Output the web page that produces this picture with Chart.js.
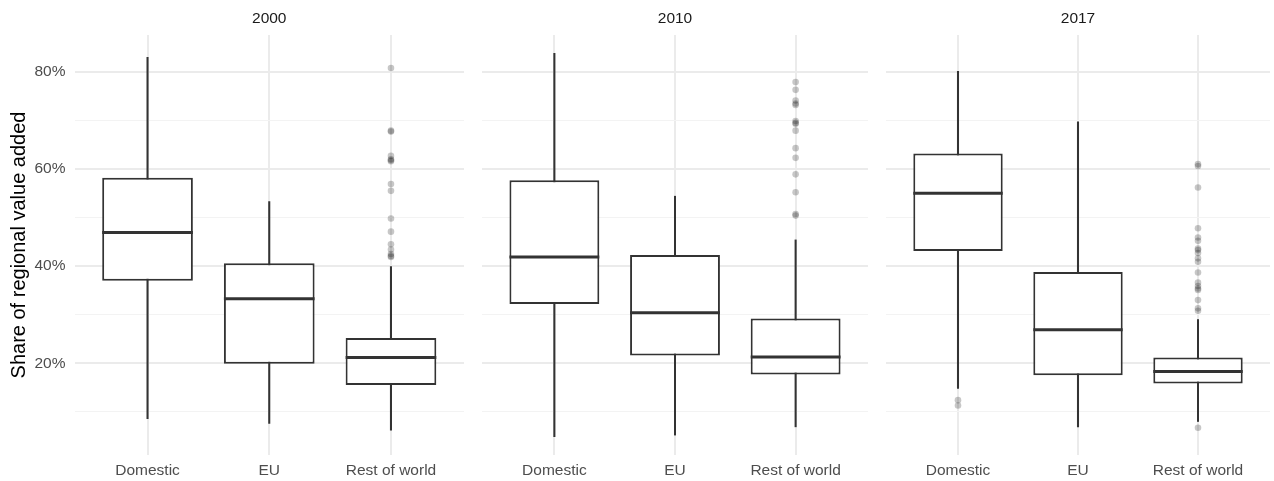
<!DOCTYPE html>
<html>
<head>
<meta charset="utf-8">
<script src="https://cdn.jsdelivr.net/npm/chart.js@4.4.1/dist/chart.umd.min.js"></script>
<style>
  html, body { margin: 0; padding: 0; background: #ffffff; }
  #wrap { position: relative; width: 1274px; height: 481px; }
  .panel { position: absolute; top: 0; }
</style>
</head>
<body>
<div id="wrap">
  <div class="panel" style="left:0px"><canvas id="p2000" width="468" height="481"></canvas></div>
  <div class="panel" style="left:478px"><canvas id="p2010" width="394" height="481"></canvas></div>
  <div class="panel" style="left:882px"><canvas id="p2017" width="392" height="481"></canvas></div>
</div>
<script>
// Source categories and facet years
const categories = ['Domestic', 'EU', 'Rest of world'];
const years = ['2000', '2010', '2017'];
const yTickValues = [10, 20, 30, 40, 50, 60, 70, 80];

// 2000: box statistics (percent)
const low2000 = [8.6, 7.6, 6.2];
const q1_2000 = [37.0, 19.9, 15.5];
const med2000 = [46.9, 33.3, 21.2];
const q3_2000 = [58.2, 40.6, 25.2];
const high2000 = [83.0, 53.3, 39.9];
const out2000 = [[], [], [80.8, 67.9, 67.7, 62.7, 62.0, 61.8, 61.6, 56.9, 55.5, 49.8, 47.1, 44.5, 43.4, 42.5, 42.1, 41.9]];

// 2010
const low2010 = [4.9, 5.2, 6.9];
const q1_2010 = [32.2, 21.6, 17.7];
const med2010 = [41.9, 30.4, 21.3];
const q3_2010 = [57.7, 42.3, 29.2];
const high2010 = [83.8, 54.4, 45.4];
const out2010 = [[], [], [77.9, 76.3, 74.1, 73.5, 73.2, 69.9, 69.5, 69.3, 67.9, 64.3, 62.3, 58.9, 55.2, 50.7, 50.4]];

// 2017
const low2017 = [14.8, 6.9, 8.0];
const q1_2017 = [43.1, 17.5, 15.8];
const med2017 = [55.0, 26.9, 18.3];
const q3_2017 = [63.2, 38.8, 21.2];
const high2017 = [80.1, 69.7, 29.0];
const out2017 = [[12.4, 11.3], [], [61.0, 60.6, 56.2, 47.8, 45.9, 45.2, 43.6, 43.3, 42.7, 41.6, 40.9, 38.7, 36.6, 35.9, 35.4, 35.1, 33.0, 31.3, 30.8, 6.7]];

const FAMILY = '"Liberation Sans", Arial, Helvetica, sans-serif';
const INK = '#333333';

// Median bars and facet strip labels
const boxExtras = {
  id: 'boxExtras',
  afterDatasetsDraw(chart, args, opts) {
    const meta = chart.getDatasetMeta(opts.boxIndex);
    const yScale = chart.scales.y;
    const ctx = chart.ctx;
    ctx.save();
    ctx.strokeStyle = INK;
    ctx.lineWidth = 3;
    meta.data.forEach((el, i) => {
      const py = yScale.getPixelForValue(opts.medians[i]);
      ctx.beginPath();
      ctx.moveTo(el.x - el.width / 2, py);
      ctx.lineTo(el.x + el.width / 2, py);
      ctx.stroke();
    });
    ctx.restore();
  },
  afterDraw(chart, args, opts) {
    const ctx = chart.ctx;
    const area = chart.chartArea;
    ctx.save();
    ctx.font = '15.5px ' + FAMILY;
    ctx.fillStyle = '#1a1a1a';
    ctx.textAlign = 'center';
    ctx.textBaseline = 'middle';
    ctx.fillText(opts.strip, (area.left + area.right) / 2, 19);
    ctx.restore();
  }
};

function makePanel(id, year, low, q1, med, q3, high, outliers, showAxis) {
  const whiskers = categories.map((c, i) => ({ x: i + 1, y: [low[i], high[i]] }));
  const boxes = categories.map((c, i) => ({ x: i + 1, y: [q1[i], q3[i]] }));
  const points = outliers.flatMap((arr, i) => arr.map(v => ({ x: i + 1, y: v })));

  new Chart(document.getElementById(id), {
    type: 'bar',
    data: {
      datasets: [
        {
          data: whiskers,
          backgroundColor: INK,
          borderWidth: 0,
          barThickness: 1.4,
          grouped: false,
          order: 3
        },
        {
          data: boxes,
          backgroundColor: '#ffffff',
          borderColor: INK,
          borderWidth: 2,
          borderSkipped: false,
          barPercentage: 0.745,
          categoryPercentage: 1,
          grouped: false,
          order: 2
        },
        {
          type: 'scatter',
          data: points,
          pointRadius: 3.3,
          pointBackgroundColor: 'rgba(0,0,0,0.22)',
          pointBorderWidth: 0,
          order: 1
        }
      ]
    },
    options: {
      responsive: false,
      animation: false,
      events: [],
      layout: { padding: { top: 35, left: 0, right: 0, bottom: 0 } },
      plugins: {
        legend: { display: false },
        tooltip: { enabled: false },
        boxExtras: { boxIndex: 1, medians: med, strip: year }
      },
      scales: {
        x: {
          type: 'linear',
          min: 0.4,
          max: 3.6,
          offset: false,
          afterBuildTicks: s => { s.ticks = categories.map((c, i) => ({ value: i + 1 })); },
          afterFit: s => { s.height = 26; },
          ticks: {
            callback: (v, i) => categories[i],
            autoSkip: false,
            maxRotation: 0,
            color: '#4d4d4d',
            font: { size: 15.5, family: FAMILY },
            padding: 6.5
          },
          grid: { offset: false, color: '#ebebeb', lineWidth: 2, drawTicks: false },
          border: { display: false }
        },
        y: {
          min: 1.1,
          max: 87.6,
          afterBuildTicks: s => { s.ticks = yTickValues.map(v => ({ value: v })); },
          afterFit: s => { s.width = showAxis ? 74.5 : 0; },
          ticks: {
            display: showAxis,
            callback: v => (v % 20 === 0 ? v + '%' : ''),
            color: '#4d4d4d',
            font: { size: 15.5, family: FAMILY },
            padding: 9
          },
          grid: {
            drawTicks: false,
            color: c => (c.tick && c.tick.value % 20 === 0 ? '#ebebeb' : '#f3f3f3'),
            lineWidth: c => (c.tick && c.tick.value % 20 === 0 ? 2 : 1)
          },
          border: { display: false },
          title: {
            display: showAxis,
            text: 'Share of regional value added',
            color: '#000000',
            font: { size: 20, family: FAMILY },
            padding: { top: 7, bottom: 0 }
          }
        }
      }
    },
    plugins: [boxExtras]
  });
}

makePanel('p2000', years[0], low2000, q1_2000, med2000, q3_2000, high2000, out2000, true);
makePanel('p2010', years[1], low2010, q1_2010, med2010, q3_2010, high2010, out2010, false);
makePanel('p2017', years[2], low2017, q1_2017, med2017, q3_2017, high2017, out2017, false);
</script>
</body>
</html>
